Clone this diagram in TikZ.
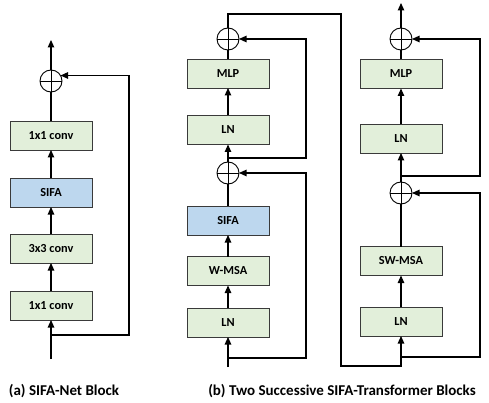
\documentclass[tikz,border=0pt]{standalone}
\usepackage{fontspec}
\setmainfont{Carlito}
\usetikzlibrary{arrows.meta}
\definecolor{boxgreen}{HTML}{E2EFDA}
\definecolor{boxblue}{HTML}{BDD7EE}
\definecolor{edge}{HTML}{3A3A3A}
\begin{document}
\begin{tikzpicture}[x=1pt,y=-1pt,
  line width=1.1pt,
  arr/.style={-{Triangle[length=7.5pt,width=6.5pt]}},
  blk/.style={draw=edge,line width=0.9pt,fill=boxgreen,minimum width=82pt,minimum height=29pt,
              inner sep=0pt,outer sep=0pt,font=\fontsize{12.3}{14}\selectfont\bfseries,text=black},
  attn/.style={blk,fill=boxblue},
  addop/.style={draw,circle,minimum size=22pt,inner sep=0pt,outer sep=0pt,line width=0.9pt},
  caption/.style={anchor=base,font=\fontsize{15}{18}\selectfont\bfseries,text=black}]
\useasboundingbox (0,0) rectangle (489,403);

% helper: plus sign inside an addition node
\newcommand{\pluscross}[1]{\draw[line width=0.9pt] (#1.north) -- (#1.south) (#1.west) -- (#1.east);}

% ---------------- (a) SIFA-Net block ----------------
\node[blk]  (a1) at (51,305.5) {1x1 conv};
\node[blk]  (a2) at (51,248.5) {3x3 conv};
\node[attn] (a3) at (51,192.5) {SIFA};
\node[blk]  (a4) at (51,135.5) {1x1 conv};
\node[addop] (ao) at (51,81) {};
\pluscross{ao}
\coordinate (ain)  at (51,359);
\coordinate (abr)  at (51,335);
\coordinate (afb)  at (129,335);
\coordinate (aout) at (51,40);

\draw (ain) -- (abr);
\draw[arr] (abr) -- (a1.south);
\draw[arr] (a1.north) -- (a2.south);
\draw[arr] (a2.north) -- (a3.south);
\draw[arr] (a3.north) -- (a4.south);
\draw (a4.north) -- (ao.south);
\draw[arr] (ao.north) -- (aout);
\draw[arr] (abr) -- (afb) |- (ao.30);

% ---------------- (b) first block (W-MSA) ----------------
\node[blk]  (b1) at (228,322.5) {LN};
\node[blk]  (b2) at (228,271) {W-MSA};
\node[attn] (b3) at (228,220.5) {SIFA};
\node[addop] (bo1) at (228,173) {};
\pluscross{bo1}
\node[blk]  (b4) at (228,130) {LN};
\node[blk]  (b5) at (228,73.5) {MLP};
\node[addop] (bo2) at (228,39) {};
\pluscross{bo2}
\coordinate (bin)  at (228,367);
\coordinate (bbr1) at (228,358);
\coordinate (bfb1) at (306,358);
\coordinate (bbr2) at (228,158);
\coordinate (bfb2) at (306,158);
\coordinate (btop) at (228,14);
\coordinate (jr)   at (341,14);
\coordinate (jb)   at (341,366);

\draw (bin) -- (bbr1);
\draw[arr] (bbr1) -- (b1.south);
\draw[arr] (b1.north) -- (b2.south);
\draw[arr] (b2.north) -- (b3.south);
\draw (b3.north) -- (bo1.south);
\draw[arr] (bo1.north) -- (b4.south);
\draw[arr] (b4.north) -- (b5.south);
\draw (b5.north) -- (bo2.south);
\draw[arr] (bbr1) -- (bfb1) |- (bo1.east);
\draw[arr] (bbr2) -- (bfb2) |- (bo2.east);

% ---------------- (b) second block (SW-MSA) ----------------
\node[blk]  (c1) at (401,321.5) {LN};
\node[blk]  (c2) at (401,261) {SW-MSA};
\node[addop] (co1) at (401,193) {};
\pluscross{co1}
\node[blk]  (c3) at (401,138.5) {LN};
\node[blk]  (c4) at (401,74) {MLP};
\node[addop] (co2) at (401,39) {};
\pluscross{co2}
\coordinate (cin)  at (401,366);
\coordinate (cbr1) at (401,357);
\coordinate (cfb1) at (480,357);
\coordinate (cbr2) at (401,176);
\coordinate (cfb2) at (480,176);
\coordinate (cout) at (401,3);

% output of the first block feeds the second
\draw (bo2.north) -- (btop) -- (jr) -- (jb) -- (cin) -- (cbr1);
\draw[arr] (cbr1) -- (c1.south);
\draw[arr] (c1.north) -- (c2.south);
\draw (c2.north) -- (co1.south);
\draw[arr] (co1.north) -- (c3.south);
\draw[arr] (c3.north) -- (c4.south);
\draw (c4.north) -- (co2.south);
\draw[arr] (co2.north) -- (cout);
\draw[arr] (cbr1) -- (cfb1) |- (co1.east);
\draw[arr] (cbr2) -- (cfb2) |- (co2.east);

% ---------------- captions ----------------
\node[caption] (capa) at (64,395) {(a) SIFA-Net Block};
\node[caption] (capb) at (342,395) {(b) Two Successive SIFA-Transformer Blocks};
\end{tikzpicture}
\end{document}
